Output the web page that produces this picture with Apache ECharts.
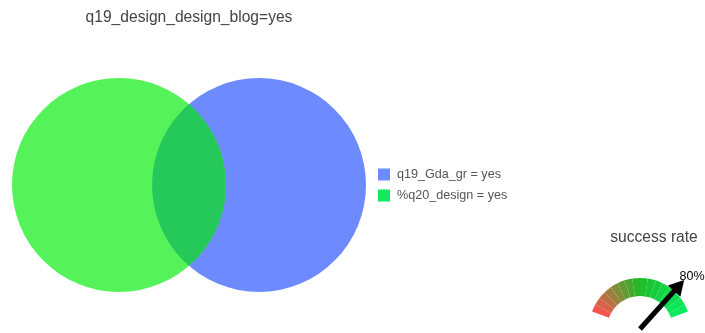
<!DOCTYPE html>
<html>
<head>
<meta charset="utf-8">
<script src="https://cdn.jsdelivr.net/npm/echarts@6/dist/echarts.min.js"></script>
<style>
  html, body { margin: 0; padding: 0; background: #fff; }
  #chart { width: 705px; height: 333px; }
</style>
</head>
<body>
<div id="chart"></div>
<script>
// Venn: two sets and their shared count
const setNames = ['q19_Gda_gr = yes', '%q20_design = yes'];
const setSizes = [100, 100];
const overlapSize = 23;
const setColors = ['#6e8aff', '#55f259'];
const legendColors = ['#6e8aff', '#12e85e'];
const overlapColor = '#25c95a';

// Gauge
const gaugeTitle = 'success rate';
const successRate = [80];

const FONT = '"Liberation Sans", Arial, Helvetica, sans-serif';

// lens area of two circles with radii r1, r2 at distance d
function lensArea(r1, r2, d) {
  if (d >= r1 + r2) return 0;
  if (d <= Math.abs(r1 - r2)) return Math.PI * Math.min(r1, r2) ** 2;
  const a1 = Math.acos((d * d + r1 * r1 - r2 * r2) / (2 * d * r1));
  const a2 = Math.acos((d * d + r2 * r2 - r1 * r1) / (2 * d * r2));
  return r1 * r1 * a1 + r2 * r2 * a2 -
    0.5 * Math.sqrt((-d + r1 + r2) * (d + r1 - r2) * (d - r1 + r2) * (d + r1 + r2));
}

// circle radii from areas, centre distance from the overlap area (bisection)
const rBlue = Math.sqrt(setSizes[0] / Math.PI);
const rGreen = Math.sqrt(setSizes[1] / Math.PI);
let lo = Math.abs(rBlue - rGreen), hi = rBlue + rGreen;
for (let i = 0; i < 80; i++) {
  const mid = (lo + hi) / 2;
  if (lensArea(rBlue, rGreen, mid) > overlapSize) lo = mid; else hi = mid;
}
const dist = (lo + hi) / 2;

// green set on the left, blue set on the right
const greenCircle = [[0, 0, rGreen]];
const blueCircle = [[dist, 0, rBlue]];
const xMin = -rGreen, xMax = dist + rBlue;
const yR = Math.max(rBlue, rGreen);

function circleItem(color) {
  return function (params, api) {
    const c = api.coord([api.value(0), api.value(1)]);
    const r = api.size([api.value(2), 0])[0];
    return { type: 'circle', shape: { cx: c[0], cy: c[1], r: r }, style: { fill: color } };
  };
}

// green circle plus the shared lens drawn on top
function greenWithLens(params, api) {
  const c1 = api.coord([api.value(0), api.value(1)]);
  const r1 = api.size([api.value(2), 0])[0];
  const c2 = api.coord([blueCircle[0][0], blueCircle[0][1]]);
  const r2 = api.size([blueCircle[0][2], 0])[0];
  const d = c2[0] - c1[0];
  const a = (d * d + r1 * r1 - r2 * r2) / (2 * d);
  const h = Math.sqrt(Math.max(r1 * r1 - a * a, 0));
  const px = c1[0] + a;
  const topAng2 = Math.atan2(-h, px - c2[0]);
  const botAng2 = Math.atan2(h, px - c2[0]);
  const topAng1 = Math.atan2(-h, px - c1[0]);
  const botAng1 = Math.atan2(h, px - c1[0]);
  const pts = [];
  const N = 90;
  // left boundary: arc of the blue circle, top to bottom through its left side
  const s2 = topAng2 < 0 ? topAng2 + 2 * Math.PI : topAng2;
  const e2 = botAng2;
  for (let i = 0; i <= N; i++) {
    const t = s2 + (e2 - s2) * i / N;
    pts.push([c2[0] + r2 * Math.cos(t), c2[1] + r2 * Math.sin(t)]);
  }
  // right boundary: arc of the green circle, bottom to top through its right side
  for (let i = 0; i <= N; i++) {
    const t = botAng1 + (topAng1 - botAng1) * i / N;
    pts.push([c1[0] + r1 * Math.cos(t), c1[1] + r1 * Math.sin(t)]);
  }
  return {
    type: 'group',
    children: [
      { type: 'circle', shape: { cx: c1[0], cy: c1[1], r: r1 }, style: { fill: setColors[1] } },
      { type: 'polygon', shape: { points: pts }, style: { fill: overlapColor } }
    ]
  };
}

// gauge band colours: red -> green -> bright green in steps
const bandStops = [[255, 78, 78], [30, 188, 40], [8, 238, 100]];
const bandCount = 16;
const bandColors = [];
for (let i = 0; i < bandCount; i++) {
  const t = (i + 0.5) / bandCount * 2;
  const k = Math.min(Math.floor(t), 1);
  const f = t - k;
  const a = bandStops[k], b = bandStops[k + 1];
  const col = a.map((v, j) => Math.round(v + (b[j] - v) * f));
  bandColors.push([(i + 1) / bandCount, 'rgb(' + col.join(',') + ')']);
}

const chart = echarts.init(document.getElementById('chart'), null, { renderer: 'canvas' });
chart.setOption({
  animation: false,
  title: [
    {
      text: 'q19_design_design_blog=yes',
      left: 189, top: 10, textAlign: 'center', padding: 0,
      textStyle: { fontFamily: FONT, fontSize: 15.6, fontWeight: 'normal', color: '#444' }
    },
    {
      text: gaugeTitle,
      left: 654, top: 230, textAlign: 'center', padding: 0,
      textStyle: { fontFamily: FONT, fontSize: 15.6, fontWeight: 'normal', color: '#444' }
    }
  ],
  legend: {
    orient: 'vertical',
    left: 378, top: 168, padding: 0,
    itemWidth: 12, itemHeight: 12, itemGap: 8,
    icon: 'rect',
    textStyle: { fontFamily: FONT, fontSize: 12.6, color: '#555', padding: [0, 0, 0, 2] },
    data: [
      { name: setNames[0], itemStyle: { color: legendColors[0] } },
      { name: setNames[1], itemStyle: { color: legendColors[1] } }
    ]
  },
  grid: { left: 12, top: 78, width: 354, height: 214 },
  xAxis: { type: 'value', min: xMin, max: xMax, show: false },
  yAxis: { type: 'value', min: -yR, max: yR, show: false },
  series: [
    {
      name: setNames[0], type: 'custom', coordinateSystem: 'cartesian2d',
      itemStyle: { color: legendColors[0] },
      renderItem: circleItem(setColors[0]), data: blueCircle, z: 1
    },
    {
      name: setNames[1], type: 'custom', coordinateSystem: 'cartesian2d',
      itemStyle: { color: legendColors[1] },
      renderItem: greenWithLens, data: greenCircle, z: 2
    },
    {
      type: 'gauge',
      center: [640, 329],
      radius: 51,
      startAngle: 160, endAngle: 20,
      min: 0, max: 100,
      axisLine: { lineStyle: { width: 18, color: bandColors } },
      splitLine: { show: false },
      axisTick: { show: false },
      axisLabel: { show: false },
      anchor: { show: false },
      pointer: {
        icon: 'path://M7,70 L7,16 L0,16 L10,0 L20,16 L13,16 L13,70 Z',
        length: 66, width: 17,
        itemStyle: { color: '#000' }
      },
      title: { show: false },
      detail: {
        formatter: '{value}%',
        offsetCenter: [52, -52],
        fontFamily: FONT, fontSize: 12.5, fontWeight: 'normal', color: '#000'
      },
      data: [{ value: successRate[0] }]
    }
  ]
});
</script>
</body>
</html>
